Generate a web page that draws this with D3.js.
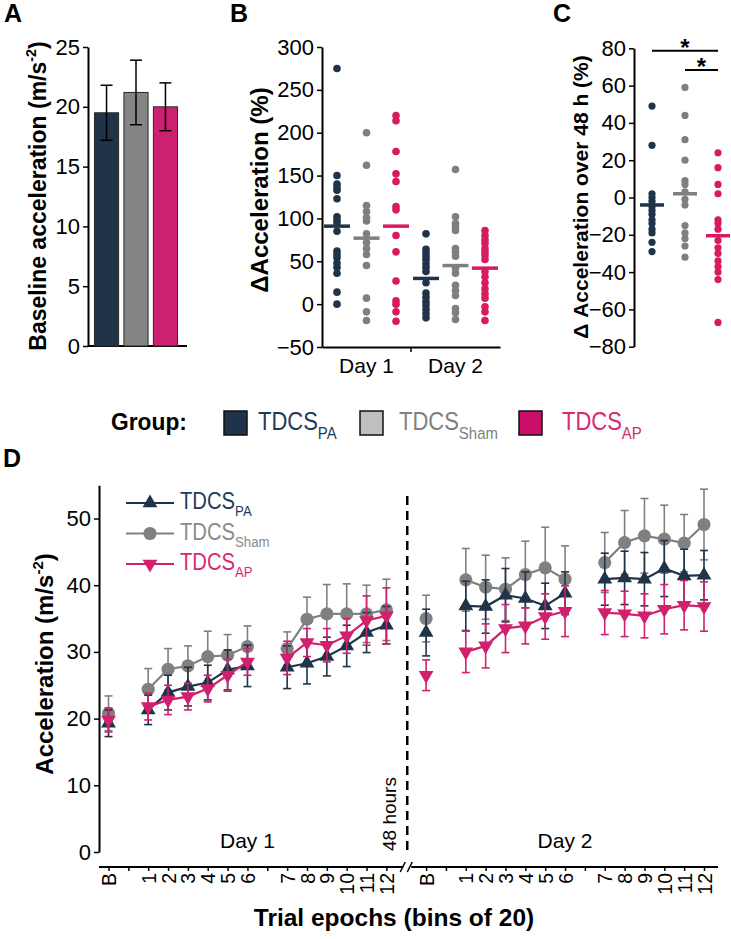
<!DOCTYPE html>
<html><head><meta charset="utf-8">
<script src="https://cdn.jsdelivr.net/npm/d3@7"></script>
<style>
body{margin:0;background:#fff}
text{font-family:"Liberation Sans",Arial,Helvetica,sans-serif;fill:#000}
</style></head><body>
<svg id="fig" width="731" height="939" style="background:#fff"></svg>
<script>
// ---------------- DATA ----------------
const groups = ["PA", "Sham", "AP"];
const groupNames = ["TDCS", "TDCS", "TDCS"];

// Panel A: baseline acceleration (m/s^2)
const baselineMean = [19.5, 21.2, 20.0];
const baselineSem = [2.3, 2.7, 2.0];
const aTicks = [0, 5, 10, 15, 20, 25];

// Panel B: delta acceleration (%)
const days = ["Day 1", "Day 2"];
const bTicks = [-50, 0, 50, 100, 150, 200, 250, 300];
const day1PA = [275, 150, 140, 136, 133, 123, 102, 98, 95, 85, 62, 58, 54, 48, 43, 36, 14, 0];
const day1Sham = [200, 162, 115, 108, 101, 97, 82, 72, 65, 58, 45, 7, -9, -19];
const day1AP = [220, 214, 178, 152, 143, 114, 110, 80, 61, 27, 4, 0, -9, -20];
const day2PA = [82, 64, 60, 56, 52, 47, 43, 38, 25, 13, 8, 3, -1, -6, -11, -16];
const day2Sham = [157, 102, 94, 90, 86, 65, 61, 56, 42, 36, 22, 16, 10, -5, -10, -18];
const day2AP = [86, 80, 75, 71, 65, 61, 57, 52, 38, 32, 25, 18, 12, 7, -3, -9, -19];
const day1Means = [91, 77, 91];
const day2Means = [30, 45, 42];

// Panel C: delta acceleration over 48 h (%)
const cTicks = [-80, -60, -40, -20, 0, 20, 40, 60, 80];
const overPA = [49, 28, 2, 0, -2, -5, -7, -9, -12, -14, -17, -19, -24, -29];
const overSham = [59, 44, 31, 20, 9, 7, 3, -1, -4, -15, -19, -22, -26, -32];
const overAP = [24, 16, 7, 2, -12, -14, -17, -23, -27, -30, -34, -37, -40, -44, -67];
const overMeans = [-4, 2, -20.5];
const sigPairs = [["PA", "AP"], ["Sham", "AP"]];

// Panel D: acceleration per epoch
const epochLabels = ["B", "1", "2", "3", "4", "5", "6", "7", "8", "9", "10", "11", "12"];
const dTicks = [0, 10, 20, 30, 40, 50];
const paDay1 = [19.3, 21.3, 23.9, 24.8, 25.4, 27.3, 27.9, 27.7, 28.3, 29.3, 30.9, 32.9, 34.0];
const paDay1Err = [2.0, 2.2, 2.6, 2.9, 2.6, 3.0, 3.1, 3.2, 3.1, 2.9, 3.1, 3.0, 2.8];
const shamDay1 = [20.8, 24.4, 27.4, 27.9, 29.3, 29.5, 30.8, 30.5, 34.9, 35.7, 35.7, 35.7, 36.3];
const shamDay1Err = [2.6, 3.1, 3.1, 3.0, 3.8, 3.1, 3.1, 2.5, 3.3, 4.4, 4.5, 4.3, 4.6];
const apDay1 = [19.8, 21.8, 22.8, 23.3, 24.5, 26.5, 28.5, 29.1, 31.4, 31.0, 32.4, 34.7, 35.4];
const apDay1Err = [1.8, 2.0, 2.2, 2.0, 2.0, 2.4, 2.0, 2.5, 2.1, 2.5, 2.6, 3.7, 4.2];
const paDay2 = [32.9, 36.9, 36.8, 38.5, 38.0, 36.9, 38.8, 40.9, 41.1, 40.9, 42.5, 41.4, 41.5];
const paDay2Err = [3.5, 3.7, 4.0, 4.0, 4.0, 3.4, 3.2, 3.9, 4.0, 4.0, 4.2, 4.0, 3.7];
const shamDay2 = [35.0, 40.8, 39.7, 39.4, 41.6, 42.6, 40.9, 43.4, 46.4, 47.4, 46.9, 46.3, 49.1];
const shamDay2Err = [3.5, 4.7, 4.8, 4.7, 5.0, 6.1, 5.0, 4.5, 4.8, 5.6, 5.1, 4.3, 5.3];
const apDay2 = [26.5, 30.0, 30.9, 33.5, 33.9, 35.3, 36.1, 35.9, 35.7, 35.4, 36.4, 37.0, 36.8];
const apDay2Err = [2.3, 3.1, 3.3, 3.6, 2.7, 3.4, 3.8, 3.3, 3.4, 3.3, 3.7, 3.7, 3.7];

// ---------------- STYLE ----------------
const dotColor = {PA: "#1f3349", Sham: "#7f7f7f", AP: "#d81b60"};
const barColor = {PA: "#1f3349", Sham: "#858585", AP: "#cc2170"};
const lineColor = {PA: "#1f3349", Sham: "#808080", AP: "#d0206e"};
const legSquare = {PA: "#1f3349", Sham: "#bfbfbf", AP: "#cc0e6b"};
const legText = {PA: "#1f3a5c", Sham: "#7f7f7f", AP: "#d62a74"};
const FONT = '"Liberation Sans",Arial,Helvetica,sans-serif';

const svg = d3.select("#fig");

function styleAxis(g, fs) {
  g.selectAll("path.domain").attr("stroke", "#000").attr("stroke-width", 2);
  g.selectAll(".tick line").attr("stroke", "#000").attr("stroke-width", 1.5);
  g.selectAll(".tick text").attr("font-size", fs).attr("font-family", FONT).attr("fill", "#000");
}
function panelLabel(t, x, y) {
  svg.append("text").attr("x", x).attr("y", y).attr("font-size", 25).attr("font-weight", "bold").text(t);
}
function rotTitle(x, y, fs, main, sup, tail) {
  const t = svg.append("text").attr("transform", `translate(${x},${y}) rotate(-90)`)
    .attr("text-anchor", "middle").attr("font-size", fs).attr("font-weight", "bold");
  t.append("tspan").text(main);
  if (sup) {
    t.append("tspan").attr("font-size", fs * 0.62).attr("dy", -fs * 0.42).text(sup);
    t.append("tspan").attr("font-size", fs).attr("dy", fs * 0.42).text(tail);
  }
}
// condensed label with subscript
function subLabel(x, y, fs, sfs, sdy, main, sub, color, sx) {
  const t = svg.append("text").attr("transform", `translate(${x},${y}) scale(${sx},1)`)
    .attr("font-size", fs).style("fill", color);
  t.append("tspan").text(main);
  t.append("tspan").attr("font-size", sfs).attr("dy", sdy).text(sub);
}

// ---------------- PANEL A ----------------
panelLabel("A", 4, 22);
const yA = d3.scaleLinear().domain([0, 25]).range([346, 47]);
const xA = d3.scaleBand().domain(groups).range([93, 179]).paddingInner(0.18).paddingOuter(0.05);
const gA = svg.append("g").attr("transform", "translate(88,0)")
  .call(d3.axisLeft(yA).tickValues(aTicks).tickSize(5).tickSizeOuter(0).tickPadding(3));
styleAxis(gA, 22);
svg.append("line").attr("x1", 88).attr("x2", xA.range()[1] + 8).attr("y1", yA(0)).attr("y2", yA(0))
  .attr("stroke", "#000").attr("stroke-width", 2);
svg.append("g").selectAll("rect").data(groups).join("rect")
  .attr("x", d => xA(d)).attr("width", xA.bandwidth())
  .attr("y", (d, i) => yA(baselineMean[i])).attr("height", (d, i) => yA(0) - yA(baselineMean[i]))
  .attr("fill", d => barColor[d]).attr("stroke", "#2a2a2a").attr("stroke-width", 1);
const eA = svg.append("g").attr("stroke", "#000").attr("stroke-width", 1.5);
groups.forEach((g, i) => {
  const cx = xA(g) + xA.bandwidth() / 2;
  const lo = yA(baselineMean[i] - baselineSem[i]), hi = yA(baselineMean[i] + baselineSem[i]);
  eA.append("line").attr("x1", cx).attr("x2", cx).attr("y1", lo).attr("y2", hi);
  eA.append("line").attr("x1", cx - 6).attr("x2", cx + 6).attr("y1", lo).attr("y2", lo);
  eA.append("line").attr("x1", cx - 6).attr("x2", cx + 6).attr("y1", hi).attr("y2", hi);
});
rotTitle(46, 196, 23, "Baseline acceleration (m/s", "-2", ")");

// ---------------- PANEL B ----------------
panelLabel("B", 230, 22);
const yB = d3.scaleLinear().domain([-50, 300]).range([347, 47]);
const xB = d3.scaleBand().domain(days).range([322, 500]);
const subB = d3.scalePoint().domain(groups).range([-29.5, 29.5]);
const gB = svg.append("g").attr("transform", "translate(322,0)")
  .call(d3.axisLeft(yB).tickValues(bTicks).tickSize(5).tickSizeOuter(0).tickPadding(3));
styleAxis(gB, 22);
const gBx = svg.append("g").attr("transform", `translate(0,${yB(-50)})`)
  .call(d3.axisBottom(xB).tickSize(0).tickSizeOuter(0).tickPadding(10));
styleAxis(gBx, 21);
gBx.selectAll(".tick text").attr("dy", "0.75em");
svg.append("line").attr("x1", xB("Day 2")).attr("x2", xB("Day 2"))
  .attr("y1", yB(-50)).attr("y2", yB(-50) + 5).attr("stroke", "#000").attr("stroke-width", 1.5);
const bSets = [
  {day: "Day 1", g: "PA", v: day1PA, m: day1Means[0]},
  {day: "Day 1", g: "Sham", v: day1Sham, m: day1Means[1]},
  {day: "Day 1", g: "AP", v: day1AP, m: day1Means[2]},
  {day: "Day 2", g: "PA", v: day2PA, m: day2Means[0]},
  {day: "Day 2", g: "Sham", v: day2Sham, m: day2Means[1]},
  {day: "Day 2", g: "AP", v: day2AP, m: day2Means[2]}
];
bSets.forEach(s => {
  const cx = xB(s.day) + xB.bandwidth() / 2 + subB(s.g);
  svg.append("g").selectAll("circle").data(s.v).join("circle")
    .attr("cx", cx).attr("cy", d => yB(d)).attr("r", 3.8).attr("fill", dotColor[s.g]);
  svg.append("line").attr("x1", cx - 13).attr("x2", cx + 13).attr("y1", yB(s.m)).attr("y2", yB(s.m))
    .attr("stroke", dotColor[s.g]).attr("stroke-width", 3.5);
});
rotTitle(268, 190, 24, "\u0394Acceleration (%)");

// ---------------- PANEL C ----------------
panelLabel("C", 553, 22);
const yC = d3.scaleLinear().domain([-80, 80]).range([346.7, 48.3]);
const xC = d3.scalePoint().domain(groups).range([652, 718]);
const gC = svg.append("g").attr("transform", "translate(634,0)")
  .call(d3.axisLeft(yC).tickValues(cTicks).tickSize(5).tickSizeOuter(0).tickPadding(3));
styleAxis(gC, 22);
[overPA, overSham, overAP].forEach((vals, i) => {
  const g = groups[i], cx = xC(g);
  svg.append("g").selectAll("circle").data(vals).join("circle")
    .attr("cx", cx).attr("cy", d => yC(d)).attr("r", 3.6).attr("fill", dotColor[g]);
  svg.append("line").attr("x1", cx - 12).attr("x2", cx + 12).attr("y1", yC(overMeans[i])).attr("y2", yC(overMeans[i]))
    .attr("stroke", dotColor[g]).attr("stroke-width", 3.5);
});
sigPairs.forEach((p, i) => {
  const y = 50.7 + i * 19.3;
  const x1 = xC(p[0]), x2 = xC(p[1]);
  svg.append("line").attr("x1", x1).attr("x2", x2).attr("y1", y).attr("y2", y).attr("stroke", "#000").attr("stroke-width", 2);
  svg.append("text").attr("x", (x1 + x2) / 2).attr("y", y + 5).attr("text-anchor", "middle")
    .attr("font-size", 24).attr("font-weight", "bold").text("*");
});
rotTitle(588, 197, 21, "\u0394 Acceleration over 48 h (%)");

// ---------------- GROUP LEGEND ----------------
svg.append("text").attr("transform", "translate(111,430) scale(0.95,1)")
  .attr("font-size", 24).attr("font-weight", "bold").text("Group:");
const legX = [224, 360, 519];
const legTx = [258, 399, 562];
groups.forEach((g, i) => {
  svg.append("rect").attr("x", legX[i]).attr("y", 411).attr("width", 23).attr("height", 24)
    .attr("fill", legSquare[g]).attr("stroke", "#111").attr("stroke-width", 1.5);
  subLabel(legTx[i], 430, 25, 17, 9, groupNames[i], g, legText[g], 0.88);
});

// ---------------- PANEL D ----------------
panelLabel("D", 3, 467);
const unit = 19.85, x0 = 108.5, dayOffset = 16;
const xD = d3.scaleLinear().domain([0, 30]).range([x0, x0 + 30 * unit]);
const yD = d3.scaleLinear().domain([0, 55]).range([852, 852 - 55 * 6.67]);
const slotOf = (lab, day) => (lab === "B" ? 0 : (+lab <= 6 ? +lab + 1 : +lab + 2)) + day * dayOffset;
const segOf = lab => lab === "B" ? 0 : (+lab <= 6 ? 1 : 2);

const gD = svg.append("g").attr("transform", "translate(99,0)")
  .call(d3.axisLeft(yD).tickValues(dTicks).tickSize(5).tickSizeOuter(0).tickPadding(3));
styleAxis(gD, 22);

// x axis with break
const axY = 867;
const slots = [], slotLab = {};
[0, 1].forEach(day => {
  for (let s = 0; s <= 14; s++) slots.push(s + day * dayOffset);
  epochLabels.forEach(l => { slotLab[slotOf(l, day)] = l; });
});
const gDx = svg.append("g").attr("transform", `translate(0,${axY})`)
  .call(d3.axisBottom(xD).tickValues(slots).tickSize(4).tickFormat(s => slotLab[s] || ""));
gDx.select("path.domain").remove();
styleAxis(gDx, 19.5);
gDx.selectAll(".tick text").attr("text-anchor", "end").attr("transform", "translate(0,6) rotate(-90)")
  .attr("x", 0).attr("y", 0).attr("dy", "0.36em");
const brk = xD(15);
svg.append("line").attr("x1", 99).attr("x2", brk - 3).attr("y1", axY).attr("y2", axY).attr("stroke", "#000").attr("stroke-width", 2);
svg.append("line").attr("x1", brk + 5).attr("x2", xD(30) + 14).attr("y1", axY).attr("y2", axY).attr("stroke", "#000").attr("stroke-width", 2);
[brk - 4, brk + 3].forEach(bx => {
  svg.append("line").attr("x1", bx - 2).attr("x2", bx + 3).attr("y1", axY + 5).attr("y2", axY - 5).attr("stroke", "#000").attr("stroke-width", 1.5);
});

// dashed 48 h line
svg.append("line").attr("x1", brk + 1).attr("x2", brk + 1).attr("y1", 496).attr("y2", 852)
  .attr("stroke", "#000").attr("stroke-width", 2.5).attr("stroke-dasharray", "9,6");
svg.append("text").attr("transform", `translate(${brk - 10},851) rotate(-90)`).attr("font-size", 19).text("48 hours");
svg.append("text").attr("x", (xD(0) + xD(14)) / 2).attr("y", 848).attr("text-anchor", "middle").attr("font-size", 21).text("Day 1");
svg.append("text").attr("x", (xD(16) + xD(30)) / 2).attr("y", 848).attr("text-anchor", "middle").attr("font-size", 21).text("Day 2");
svg.append("text").attr("x", 394).attr("y", 926).attr("text-anchor", "middle").attr("font-size", 24.5).attr("font-weight", "bold").text("Trial epochs (bins of 20)");
rotTitle(53, 664, 24, "Acceleration (m/s", "-2", ")");

const series = [
  {g: "Sham", d1: shamDay1, e1: shamDay1Err, d2: shamDay2, e2: shamDay2Err, sym: d3.symbolCircle, size: 135, rot: 0},
  {g: "PA", d1: paDay1, e1: paDay1Err, d2: paDay2, e2: paDay2Err, sym: d3.symbolTriangle, size: 95, rot: 0},
  {g: "AP", d1: apDay1, e1: apDay1Err, d2: apDay2, e2: apDay2Err, sym: d3.symbolTriangle, size: 95, rot: 180}
];
const line = d3.line().x(p => xD(p.s)).y(p => yD(p.v));
series.forEach(sr => {
  const pts = [];
  [[sr.d1, sr.e1], [sr.d2, sr.e2]].forEach((de, day) => {
    epochLabels.forEach((l, i) => pts.push({s: slotOf(l, day), v: de[0][i], e: de[1][i], seg: day * 3 + segOf(l)}));
  });
  const g = svg.append("g");
  const c = lineColor[sr.g];
  const eb = g.append("g").attr("stroke", c).attr("stroke-width", 1.6);
  pts.forEach(p => {
    const cx = xD(p.s), lo = yD(p.v - p.e), hi = yD(p.v + p.e);
    eb.append("line").attr("x1", cx).attr("x2", cx).attr("y1", lo).attr("y2", hi);
    eb.append("line").attr("x1", cx - 4).attr("x2", cx + 4).attr("y1", lo).attr("y2", lo);
    eb.append("line").attr("x1", cx - 4).attr("x2", cx + 4).attr("y1", hi).attr("y2", hi);
  });
  d3.groups(pts, p => p.seg).forEach(([k, arr]) => {
    g.append("path").attr("d", line(arr)).attr("fill", "none").attr("stroke", c).attr("stroke-width", 2.2);
  });
  g.selectAll("path.mk").data(pts).join("path").attr("class", "mk")
    .attr("d", d3.symbol(sr.sym, sr.size))
    .attr("transform", p => `translate(${xD(p.s)},${yD(p.v)}) rotate(${sr.rot})`)
    .attr("fill", c);
});

// D legend
const dLegOrder = ["PA", "Sham", "AP"];
const dLegSym = {PA: [d3.symbolTriangle, 95, 0], Sham: [d3.symbolCircle, 135, 0], AP: [d3.symbolTriangle, 95, 180]};
const dLegText = {PA: "#1f3a5c", Sham: "#8a8a8a", AP: "#d62a74"};
dLegOrder.forEach((g, i) => {
  const y = 503 + i * 30.5;
  svg.append("line").attr("x1", 126).attr("x2", 174).attr("y1", y).attr("y2", y).attr("stroke", lineColor[g]).attr("stroke-width", 2.2);
  svg.append("path").attr("d", d3.symbol(dLegSym[g][0], dLegSym[g][1])).attr("transform", `translate(150,${y}) rotate(${dLegSym[g][2]})`).attr("fill", lineColor[g]);
  subLabel(180, y + 6, 23, 15, 7, "TDCS", g, dLegText[g], 0.88);
});
</script>
</body></html>
